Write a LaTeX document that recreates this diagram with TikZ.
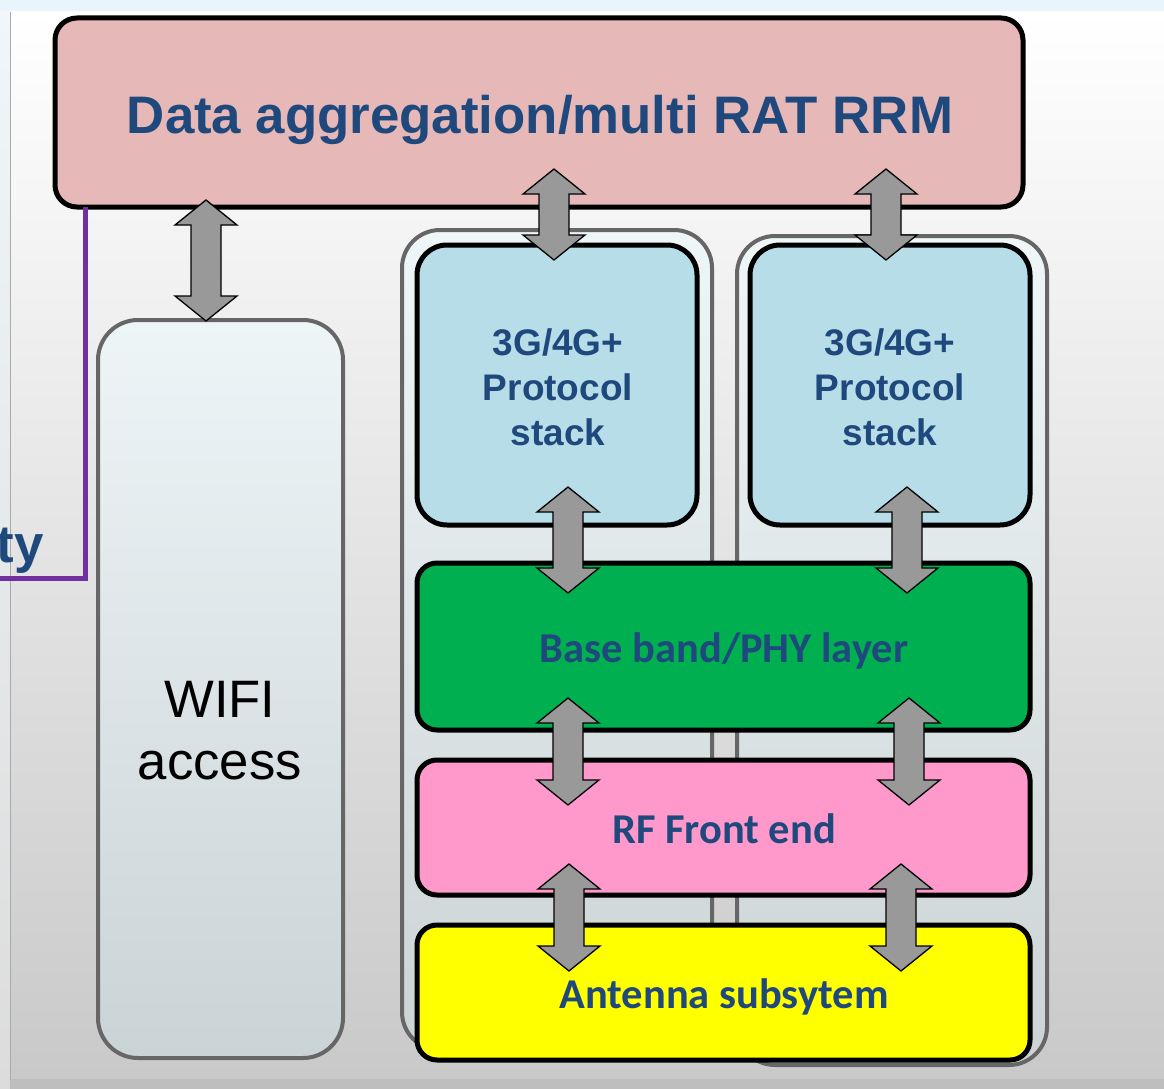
\documentclass[tikz,border=0pt]{standalone}
\usepackage{fontspec}
\newfontfamily\arialfont{Liberation Sans}
\newfontfamily\calfont{Carlito}
\usetikzlibrary{calc}
\definecolor{txtblue}{HTML}{1F497D}
\definecolor{rrmfill}{HTML}{E6B8B7}
\definecolor{psfill}{HTML}{B7DDE8}
\definecolor{bbfill}{HTML}{00B050}
\definecolor{rffill}{HTML}{FF99CC}
\definecolor{antfill}{HTML}{FFFF00}
\definecolor{contdraw}{HTML}{666666}
\definecolor{arrowfill}{HTML}{999999}
\definecolor{purpleline}{HTML}{7030A0}
\definecolor{contTop}{HTML}{EEF6F8}
\definecolor{contBot}{HTML}{CBD3D5}
\begin{document}
\begin{tikzpicture}[x=1pt,y=-1pt,
  blockbox/.style={draw=black, line width=5pt, rounded corners=20pt, inner sep=0pt, align=center},
  container/.style={draw=contdraw, line width=4pt, rounded corners=38pt, inner sep=0pt,
    top color=contTop, bottom color=contBot},
  dblarrow/.style={fill=arrowfill, draw=black, line width=1.3pt, line join=miter,
    to path={let \p1=(\tikztostart), \p2=(\tikztotarget) in
      (\x1,\y1) -- (\x1+31pt,\y1-25pt) -- (\x1+15pt,\y1-25pt) -- (\x1+15pt,\y2+25pt)
      -- (\x1+31pt,\y2+25pt) -- (\x1,\y2) -- (\x1-31pt,\y2+25pt) -- (\x1-15pt,\y2+25pt)
      -- (\x1-15pt,\y1-25pt) -- (\x1-31pt,\y1-25pt) -- cycle}},
  boldblue/.style={text=txtblue, font=\arialfont\bfseries},
  calblue/.style={text=txtblue, font=\calfont\bfseries\fontsize{42.5}{50}\selectfont}
]
\useasboundingbox (0,0) rectangle (1164,1089);
% background
\fill[white] (0,0) rectangle (1164,1089);
\fill[color={rgb,255:red,233;green,245;blue,251}] (0,0) rectangle (1164,12);
\shade[top color=white, middle color={rgb,255:red,238;green,238;blue,238}, bottom color={rgb,255:red,201;green,201;blue,201}] (10,12) rectangle (1164,1079);
\shade[top color={rgb,255:red,240;green,246;blue,249}, bottom color={rgb,255:red,220;green,220;blue,220}] (0,12) rectangle (10,1089);
\fill[color={rgb,255:red,190;green,190;blue,190}] (10,1079) rectangle (1164,1089);
\draw[color={rgb,255:red,170;green,170;blue,170}, line width=1.5pt] (10.5,12) -- (10.5,1080);

% containers
\node[container, minimum width=310pt, minimum height=820pt] (contL) at (557,640) {};
\node[container, minimum width=310pt, minimum height=829pt] (contR) at (892,650.5) {};

% top box
\node[blockbox, fill=rrmfill, rounded corners=22pt, minimum width=968pt, minimum height=189pt] (rrm) at (539,112.5) {};
\node[boldblue, font=\arialfont\bfseries\fontsize{52.8}{60}\selectfont] (rrmtxt) at (540,120) {Data aggregation/multi RAT RRM};

% purple line
\coordinate (pcorner) at (85,578);
\coordinate (pend) at (0,578);
\draw[purpleline, line width=5pt] (rrm.south -| pcorner) ++(0,-3) -- (pcorner) -- (pend);
\node[boldblue, font=\arialfont\bfseries\fontsize{52.8}{60}\selectfont, anchor=base east, inner sep=0pt] (ty) at (44,562) {ty};

% wifi
\node[container, rounded corners=40pt, top color={rgb,255:red,238;green,245;blue,247}, bottom color={rgb,255:red,202;green,211;blue,214}, minimum width=245pt, minimum height=738pt] (wifi) at (220.5,689) {};
\node[align=center, font=\arialfont\fontsize{52.7}{62}\selectfont, text=black] (wifitxt) at (220,731) {WIFI\\access};

% protocol stacks
\node[blockbox, fill=psfill, rounded corners=30pt, minimum width=280pt, minimum height=280pt] (psL) at (557,385) {};
\node[blockbox, fill=psfill, rounded corners=30pt, minimum width=280pt, minimum height=280pt] (psR) at (890,385) {};
\node[boldblue, align=center, font=\arialfont\bfseries\fontsize{37}{45}\selectfont] (psLtxt) at (558,387) {3G/4G+\\Protocol\\stack};
\node[boldblue, align=center, font=\arialfont\bfseries\fontsize{37}{45}\selectfont] (psRtxt) at (890,387) {3G/4G+\\Protocol\\stack};

% layers
\node[blockbox, fill=bbfill, minimum width=613pt, minimum height=167pt] (bb) at (723.5,646.5) {};
\node[calblue] (bbtxt) at (724,651) {Base band/PHY layer};
\node[blockbox, fill=rffill, minimum width=613pt, minimum height=135pt] (rf) at (723.5,827.5) {};
\node[calblue] (rftxt) at (724,829) {RF Front end};
\node[blockbox, fill=antfill, minimum width=613pt, minimum height=135pt] (ant) at (723.5,992.5) {};
\node[calblue] (anttxt) at (724,997) {Antenna subsytem};

% arrow end points
\coordinate (a1t) at (206,200); \coordinate (a1b) at (206,321);
\coordinate (a2t) at (554,169); \coordinate (a2b) at (554,260);
\coordinate (a3t) at (886,169); \coordinate (a3b) at (886,260);
\coordinate (a4t) at (568,487); \coordinate (a4b) at (568,593);
\coordinate (a5t) at (907,487); \coordinate (a5b) at (907,593);
\coordinate (a6t) at (568,698); \coordinate (a6b) at (568,805);
\coordinate (a7t) at (909,698); \coordinate (a7b) at (909,805);
\coordinate (a8t) at (569,864); \coordinate (a8b) at (569,971);
\coordinate (a9t) at (901,864); \coordinate (a9b) at (901,971);
\foreach \i in {1,...,9}{\draw[dblarrow] (a\i t) to (a\i b);}
\end{tikzpicture}
\end{document}
